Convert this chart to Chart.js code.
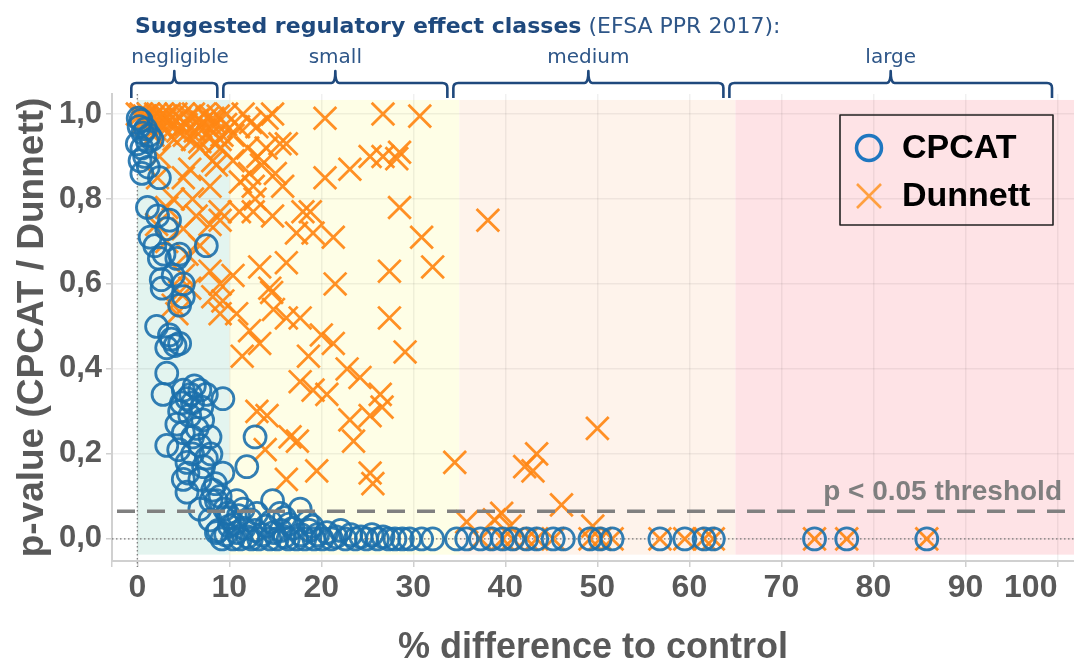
<!DOCTYPE html>
<html>
<head>
<meta charset="utf-8">
<script src="https://cdn.jsdelivr.net/npm/chart.js@4.4.1/dist/chart.umd.min.js"></script>
<style>
  html, body { margin: 0; padding: 0; background: #fff; }
  #wrap { width: 1074px; height: 672px; }
</style>
</head>
<body>
<div id="wrap"><canvas id="chart" width="1074" height="672"></canvas></div>
<script>
// ---- data ----
const xTicks = [0, 10, 20, 30, 40, 50, 60, 70, 80, 90, 100];
const yTicks = [0, 0.2, 0.4, 0.6, 0.8, 1.0];
const classNames = ["negligible", "small", "medium", "large"];
const classBounds = [0, 10, 35, 65, 102];
const pThreshold = 0.065;

// CPCAT p-values: [% difference, p]
const cpcatPoints = [
  [0.1,0.99],[0.4,0.985],[0.2,0.97],[0.9,0.965],[1.3,0.95],[0.6,0.955],[1.6,0.94],[0.0,0.93],[0.5,0.92],[1.1,0.935],
  [0.3,0.89],[0.8,0.9],[0.5,0.86],[1.2,0.875],[2.4,0.85],
  [1.1,0.78],[2.2,0.76],[3.5,0.75],[1.4,0.71],[3.2,0.73],[1.9,0.69],[2.4,0.66],[2.9,0.67],[4.3,0.66],[7.5,0.69],
  [4.6,0.67],[2.6,0.61],[3.9,0.62],[5.0,0.60],[2.7,0.59],[4.6,0.55],[5.0,0.57],[2.1,0.50],[3.7,0.47],[4.6,0.46],
  [3.2,0.45],[3.5,0.48],[4.1,0.455],[3.2,0.39],[2.8,0.34],[5.4,0.33],[6.8,0.35],[7.5,0.34],[9.3,0.33],[6.0,0.32],
  [5.0,0.35],[6.2,0.36],[7.0,0.31],[5.8,0.34],[4.8,0.32],[4.6,0.30],[4.3,0.27],[5.7,0.29],[7.1,0.28],[6.5,0.26],
  [5.0,0.25],[6.0,0.24],[7.9,0.24],[3.2,0.22],[4.5,0.21],[6.8,0.22],[6.0,0.20],[8.0,0.20],[5.4,0.18],[7.5,0.19],
  [7.2,0.17],[5.5,0.155],[6.8,0.14],[5.0,0.14],[9.3,0.155],[11.9,0.17],[12.8,0.24],[5.4,0.11],[8.2,0.115],[8.5,0.13],
  [9.0,0.10],[8.6,0.09],[8.0,0.09],[10.8,0.09],[14.7,0.09],[6.8,0.07],[9.5,0.07],[17.7,0.07],[9.8,0.06],[11.5,0.07],
  [13.0,0.06],[15.5,0.06],[7.9,0.045],[10.0,0.05],[11.0,0.055],[12.3,0.045],[14.5,0.04],[16.0,0.05],[18.5,0.04],[10.5,0.035],
  [16.5,0.035],[19.0,0.03],[8.6,0.015],
  [8.8,0.02],[9.2,0.0],[9.6,0.01],[10.0,0.03],[10.4,0.0],[10.8,0.015],[11.2,0.0],[11.6,0.025],[12.0,0.005],[12.4,0.0],
  [12.8,0.02],[13.2,0.0],[13.6,0.01],[14.0,0.03],[14.4,0.0],[14.8,0.015],[15.2,0.0],[15.6,0.02],[16.0,0.005],[16.4,0.0],
  [16.9,0.025],[17.3,0.0],[17.8,0.01],[18.2,0.0],[18.7,0.02],[19.2,0.0],[19.6,0.01],[20.1,0.0],[20.6,0.015],[21.1,0.0],
  [21.6,0.005],[22.1,0.02],[22.6,0.0],[23.2,0.01],[23.7,0.0],[24.3,0.005],[24.9,0.0],[25.5,0.01],[26.1,0.0],[26.7,0.005],
  [27.3,0.0],[28.0,0.0],[28.8,0.0],[29.6,0.0],[30.9,0.0],[32.1,0.0],
  [34.7,0.0],[35.8,0.0],[37.3,0.0],[38.5,0.0],[39.7,0.0],[40.8,0.0],[42.3,0.0],[43.4,0.0],[45.2,0.0],[46.3,0.0],
  [49.2,0.0],[50.3,0.0],[51.6,0.0],[56.8,0.0],[59.5,0.0],[61.6,0.0],[62.6,0.0],[73.6,0.0],[77.1,0.0],[85.8,0.0]
];

// Dunnett p-values: [% difference, p]
const dunnettPoints = [
  [0.0,1.0],[0.4,1.0],[0.8,0.995],[1.2,1.0],[1.6,0.99],[2.0,1.0],[2.3,0.985],[2.7,1.0],[3.1,0.995],[3.5,1.0],
  [3.8,0.98],[4.2,1.0],[4.6,0.99],[5.0,1.0],[5.3,0.975],[5.7,0.995],[6.1,1.0],[6.5,0.985],[6.9,0.97],[7.3,1.0],
  [7.6,0.99],[8.0,0.965],[8.4,0.98],[8.8,0.995],[9.2,0.95],[9.6,0.975],[1.0,0.975],[1.9,0.965],[2.8,0.97],[3.3,0.955],
  [4.4,0.96],[5.1,0.95],[6.0,0.94],[6.8,0.935],[7.7,0.945],[8.5,0.93],[9.1,0.92],[4.0,0.94],[3.0,0.985],[0.6,0.98],
  [1.4,0.985],[9.7,1.0],[10.4,0.95],[2.5,0.995],[4.8,0.97],[6.3,0.96],[7.1,0.98],[8.2,0.99],
  [9.0,0.94],[6.8,0.92],[5.7,0.87],[8.6,0.88],[7.9,0.83],[5.0,0.85],[3.9,0.80],[2.2,0.85],[6.0,0.80],[6.4,0.76],
  [7.9,0.74],[9.0,0.77],[2.1,0.74],[3.2,0.78],[5.0,0.73],[5.4,0.67],[3.2,0.70],[6.8,0.69],[7.9,0.63],[5.0,0.62],
  [2.4,0.90],[1.7,0.95],[3.9,0.55],[4.3,0.53],[5.7,0.59],[4.6,0.58],[9.3,0.56],[9.0,0.53],[8.2,0.57],[8.2,0.89],
  [9.0,0.75],[9.0,0.60],
  [20.4,0.99],[26.7,1.0],[30.7,0.995],[25.3,0.90],[26.7,0.90],[28.5,0.91],[28.2,0.895],[23.1,0.87],[20.4,0.85],[28.5,0.78],
  [30.9,0.71],[32.1,0.64],[27.4,0.63],[21.5,0.60],[15.8,0.83],[12.6,0.83],[15.5,0.93],[16.2,0.93],[14.1,0.99],[11.5,1.0],
  [14.7,1.0],[13.0,0.97],[13.1,0.90],[12.2,0.86],[10.4,0.89],[11.1,0.77],[12.6,0.77],[14.7,0.76],[18.0,0.77],[18.8,0.77],
  [17.3,0.72],[19.1,0.72],[21.3,0.71],[13.3,0.64],[16.2,0.65],[10.4,0.62],[14.4,0.59],[27.4,0.52],[29.1,0.44],[10.8,0.53],
  [12.2,0.49],[11.4,0.43],[13.3,0.46],[14.6,0.58],[14.8,0.54],[16.2,0.52],[17.7,0.52],[20.0,0.48],[21.3,0.46],[18.6,0.43],
  [17.7,0.37],[19.1,0.35],[20.6,0.34],[22.8,0.40],[24.2,0.38],[26.4,0.34],[26.6,0.31],[23.1,0.28],[23.5,0.23],[25.3,0.29],
  [14.1,0.29],[13.0,0.30],[16.6,0.24],[17.4,0.23],[13.9,0.21],[19.5,0.16],[25.3,0.155],[25.6,0.13],[16.2,0.14],[34.5,0.18],
  [12.0,0.92],[14.0,0.92],[13.5,0.88],[11.2,0.84],[12.8,0.80],[15.0,0.86],[11.0,0.97],[12.3,0.98],
  [38.1,0.75],[50.0,0.26],[43.4,0.20],[42.1,0.17],[43.0,0.16],[46.1,0.08],[39.6,0.06],[38.8,0.045],[35.8,0.04],[40.5,0.03],
  [49.5,0.03],
  [37.3,0.0],[39.7,0.0],[40.8,0.0],[42.3,0.0],[43.4,0.0],[45.2,0.0],[49.2,0.0],[50.3,0.0],[51.6,0.0],[56.8,0.0],
  [59.5,0.0],[61.6,0.0],[62.6,0.0],[73.6,0.0],[77.1,0.0],[85.8,0.0]
];

// ---- styles ----
const bandColors = ["#e3f4ef", "#fefee6", "#fef3eb", "#fee3e6"];
const navy = "#1f497d";
const axisGrey = "#595959";
const circleColor = "rgba(28,112,172,0.9)";
const crossColor = "rgba(255,135,20,0.92)";

const decor = {
  id: "decor",
  beforeDraw(chart) {
    const { ctx, chartArea: a, scales: { x, y } } = chart;
    ctx.save();
    ctx.fillStyle = "#fff";
    ctx.fillRect(0, 0, chart.width, chart.height);
    const top = y.getPixelForValue(1.033);
    const bot = y.getPixelForValue(-0.037);
    for (let i = 0; i < classNames.length; i++) {
      const x0 = Math.max(x.getPixelForValue(classBounds[i]), a.left);
      const x1 = Math.min(x.getPixelForValue(classBounds[i + 1]), a.right);
      ctx.fillStyle = bandColors[i];
      ctx.fillRect(x0, top, x1 - x0, bot - top);
    }
    ctx.restore();
  },
  beforeDatasetsDraw(chart) {
    const { ctx, chartArea: a, scales: { x, y } } = chart;
    ctx.save();
    ctx.strokeStyle = "#777";
    ctx.lineWidth = 1.2;
    ctx.setLineDash([1.5, 2.5]);
    const y0 = y.getPixelForValue(0);
    ctx.beginPath();
    ctx.moveTo(a.left, y0);
    ctx.lineTo(a.right, y0);
    const x0 = x.getPixelForValue(0);
    ctx.moveTo(x0, a.top);
    ctx.lineTo(x0, a.bottom + 6);
    ctx.stroke();
    ctx.restore();
  },
  afterDatasetsDraw(chart) {
    const { ctx, chartArea: a, scales: { y } } = chart;
    const yt = y.getPixelForValue(pThreshold);
    ctx.save();
    ctx.strokeStyle = "#808080";
    ctx.lineWidth = 3.5;
    ctx.setLineDash([18, 12]);
    ctx.beginPath();
    ctx.moveTo(a.left + 5, yt);
    ctx.lineTo(a.right, yt);
    ctx.stroke();
    ctx.setLineDash([]);
    ctx.fillStyle = "#7f7f7f";
    ctx.font = "bold 28px 'Liberation Sans', Arial, sans-serif";
    ctx.textAlign = "right";
    ctx.textBaseline = "alphabetic";
    ctx.fillText("p < 0.05 threshold", a.right - 12, yt - 11);
    ctx.restore();
  },
  afterDraw(chart) {
    const { ctx, chartArea: a, scales: { x } } = chart;
    ctx.save();
    // header
    ctx.textBaseline = "alphabetic";
    ctx.textAlign = "left";
    ctx.fillStyle = navy;
    ctx.font = "bold 22px 'DejaVu Sans', Verdana, sans-serif";
    const head = "Suggested regulatory effect classes";
    ctx.fillText(head, 135, 33);
    const hw = ctx.measureText(head).width;
    ctx.fillStyle = "#2e5688";
    ctx.font = "22px 'DejaVu Sans', Verdana, sans-serif";
    ctx.fillText(" (EFSA PPR 2017):", 135 + hw, 33);

    // brackets with class names
    const by = 83;
    ctx.strokeStyle = navy;
    ctx.lineWidth = 2.6;
    ctx.lineJoin = "round";
    for (let i = 0; i < classNames.length; i++) {
      const x0 = x.getPixelForValue(classBounds[i]) - 6;
      const x1 = Math.min(x.getPixelForValue(classBounds[i + 1]), a.right - 10) - 12;
      const mid = (x0 + x1) / 2;
      ctx.beginPath();
      ctx.moveTo(x0, 98);
      ctx.lineTo(x0, by + 5);
      ctx.quadraticCurveTo(x0, by, x0 + 5, by);
      ctx.lineTo(mid - 4, by);
      ctx.quadraticCurveTo(mid, by, mid, by - 12);
      ctx.quadraticCurveTo(mid, by, mid + 4, by);
      ctx.lineTo(x1 - 5, by);
      ctx.quadraticCurveTo(x1, by, x1, by + 5);
      ctx.lineTo(x1, 98);
      ctx.stroke();

      ctx.fillStyle = "#2e5688";
      ctx.font = "20px 'DejaVu Sans', Verdana, sans-serif";
      const w = ctx.measureText(classNames[i]).width;
      ctx.textAlign = "center";
      ctx.fillText(classNames[i], Math.max(mid, x0 + w / 2), 63);
    }

    // legend box
    const lx = a.right - 234, ly = a.top + 21, lw = 213, lh = 110;
    ctx.strokeStyle = "#222";
    ctx.lineWidth = 1.6;
    ctx.strokeRect(lx, ly, lw, lh);
    const r1 = ly + 33, r2 = ly + 81;
    ctx.strokeStyle = "#1f77c0";
    ctx.lineWidth = 3.5;
    ctx.beginPath();
    ctx.arc(lx + 29, r1, 12.5, 0, Math.PI * 2);
    ctx.stroke();
    ctx.strokeStyle = "#ffa040";
    ctx.lineWidth = 2.6;
    ctx.beginPath();
    ctx.moveTo(lx + 17, r2 - 12); ctx.lineTo(lx + 41, r2 + 12);
    ctx.moveTo(lx + 41, r2 - 12); ctx.lineTo(lx + 17, r2 + 12);
    ctx.stroke();
    ctx.fillStyle = "#000";
    ctx.font = "bold 34px 'Liberation Sans', Arial, sans-serif";
    ctx.textAlign = "left";
    ctx.textBaseline = "middle";
    ctx.fillText("CPCAT", lx + 62, r1 + 1);
    ctx.fillText("Dunnett", lx + 62, r2 + 1);
    ctx.restore();
  }
};

const toXY = pts => pts.map(p => ({ x: p[0], y: p[1] }));

new Chart(document.getElementById("chart"), {
  type: "scatter",
  data: {
    datasets: [
      {
        label: "CPCAT",
        data: toXY(cpcatPoints),
        pointStyle: "circle",
        pointRadius: 11,
        pointHoverRadius: 11,
        borderWidth: 2.8,
        borderColor: circleColor,
        backgroundColor: "transparent"
      },
      {
        label: "Dunnett",
        data: toXY(dunnettPoints),
        pointStyle: "crossRot",
        pointRadius: 16,
        pointHoverRadius: 16,
        borderWidth: 2.8,
        borderColor: crossColor,
        backgroundColor: crossColor
      }
    ]
  },
  options: {
    responsive: false,
    animation: false,
    layout: { autoPadding: false, padding: { top: 94, right: 0, bottom: 0, left: 0 } },
    plugins: {
      legend: { display: false },
      tooltip: { enabled: false }
    },
    scales: {
      x: {
        type: "linear",
        min: -2.75,
        max: 101.8,
        afterBuildTicks: s => { s.ticks = [-2.75].concat(xTicks).map(v => ({ value: v })); },
        afterFit: s => { s.height = 111; s.paddingLeft = 0; s.paddingRight = 0; },
        grid: { color: "rgba(0,0,0,0.06)", lineWidth: 1.5, tickLength: 6, tickColor: "#cfcfcf" },
        border: { display: true, color: "#d0d0d0", width: 2 },
        ticks: {
          autoSkip: false,
          align: "inner",
          padding: 2,
          color: axisGrey,
          font: { family: "'Liberation Sans', Arial, sans-serif", size: 32, weight: "bold" },
          callback: v => (v < 0 ? "" : String(v))
        },
        title: {
          display: true,
          text: "% difference to control",
          color: axisGrey,
          padding: { top: 0, bottom: 2 },
          font: { family: "'Liberation Sans', Arial, sans-serif", size: 36, weight: "bold" }
        }
      },
      y: {
        type: "linear",
        min: -0.052,
        max: 1.047,
        afterBuildTicks: s => { s.ticks = yTicks.map(v => ({ value: v })); },
        afterFit: s => { s.width = 112; },
        grid: { color: "rgba(0,0,0,0.06)", lineWidth: 1.5, tickLength: 6, tickColor: "#cfcfcf" },
        border: { display: true, color: "#d0d0d0", width: 2 },
        ticks: {
          padding: 4,
          color: axisGrey,
          font: { family: "'Liberation Sans', Arial, sans-serif", size: 31, weight: "bold" },
          callback: v => v.toFixed(1).replace(".", ",")
        },
        title: {
          display: true,
          text: "p-value (CPCAT / Dunnett)",
          color: axisGrey,
          padding: { top: 11, bottom: 0 },
          font: { family: "'Liberation Sans', Arial, sans-serif", size: 37, weight: "bold" }
        }
      }
    }
  },
  plugins: [decor]
});
</script>
</body>
</html>
